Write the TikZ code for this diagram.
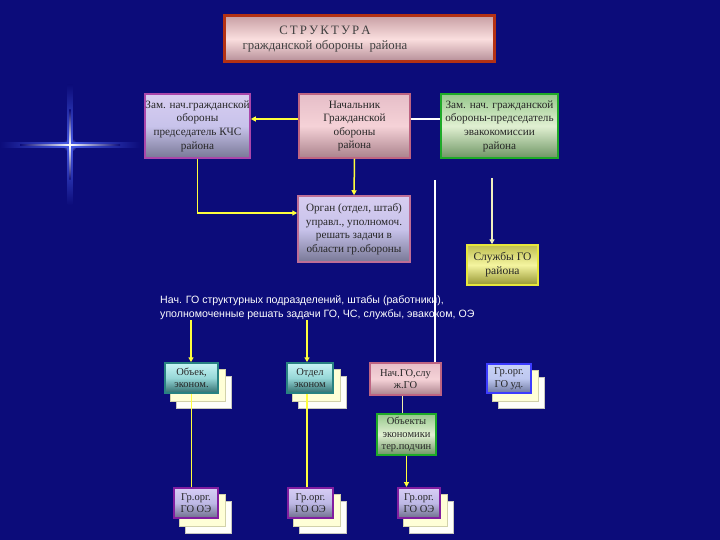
\documentclass[tikz,border=0pt]{standalone}
\usepackage{fontspec}
\setmainfont{Liberation Serif}
\newfontfamily\arialf{Liberation Sans}
\usetikzlibrary{arrows.meta,calc}
\definecolor{bgnavy}{RGB}{12,12,122}
\definecolor{ylw}{RGB}{255,255,60}
\pgfdeclarelayer{bglayer}
\pgfdeclarelayer{sheetlayer}
\pgfsetlayers{bglayer,sheetlayer,main}
\begin{document}
\begin{tikzpicture}[x=1pt,y=-1pt,
  box/.style={rectangle, inner sep=0.5pt, align=center, text=black!85,
    font=\fontsize{11.2}{13.6}\selectfont, line width=1.5pt},
  small/.style={font=\fontsize{10.5}{12.5}\selectfont},
  lavbox/.style={box, draw={rgb,255:red,170;green,70;blue,170}, top color={rgb,255:red,215;green,205;blue,240}, bottom color={rgb,255:red,120;green,120;blue,150}, middle color={rgb,255:red,200;green,195;blue,235}},
  pinkbox/.style={box, draw={rgb,255:red,190;green,100;blue,130}, top color={rgb,255:red,230;green,190;blue,200}, bottom color={rgb,255:red,170;green,130;blue,140}, middle color={rgb,255:red,245;green,210;blue,215}},
  greenbox/.style={box, draw={rgb,255:red,30;green,170;blue,40}, line width=2pt, top color={rgb,255:red,150;green,200;blue,140}, bottom color={rgb,255:red,110;green,150;blue,100}, middle color={rgb,255:red,225;green,240;blue,210}},
  yelbox/.style={box, draw={rgb,255:red,230;green,230;blue,60}, top color={rgb,255:red,190;green,190;blue,80}, bottom color={rgb,255:red,150;green,150;blue,50}, middle color={rgb,255:red,245;green,245;blue,160}},
  tealbox/.style={box, draw={rgb,255:red,40;green,130;blue,130}, top color={rgb,255:red,200;green,245;blue,245}, bottom color={rgb,255:red,50;green,110;blue,110}, middle color={rgb,255:red,150;green,215;blue,215}},
  bluebox/.style={box, draw={rgb,255:red,60;green,60;blue,255}, top color={rgb,255:red,200;green,210;blue,245}, bottom color={rgb,255:red,110;green,120;blue,160}, middle color={rgb,255:red,190;green,200;blue,240}},
  purpbox/.style={box, draw={rgb,255:red,130;green,30;blue,160}, line width=2pt, top color={rgb,255:red,215;green,205;blue,245}, bottom color={rgb,255:red,110;green,110;blue,140}, middle color={rgb,255:red,190;green,185;blue,230}},
  sheetA/.style={fill={rgb,255:red,255;green,255;blue,250}, draw={rgb,255:red,200;green,200;blue,190}, line width=0.5pt},
  sheetB/.style={fill={rgb,255:red,255;green,255;blue,215}, draw={rgb,255:red,210;green,210;blue,170}, line width=0.5pt},
  yl/.style={draw=ylw, line width=1.5pt},
  wl/.style={draw=white, line width=1.1pt},
  tip/.style={-{Triangle[length=5pt,width=5pt]}}
]
\begin{pgfonlayer}{bglayer}
  \fill[bgnavy] (0,0) rectangle (720,540);
  % sparkle
  \shade[inner color={rgb,255:red,150;green,160;blue,255}, outer color=bgnavy] (70,145) circle (7);
  \shade[left color=bgnavy, right color=bgnavy, middle color={rgb,255:red,70;green,90;blue,230}] (0,142.5) rectangle (140,147.5);
  \shade[top color=bgnavy, bottom color=bgnavy, middle color={rgb,255:red,70;green,90;blue,230}] (67.5,85) rectangle (72.5,205);
  \shade[left color=bgnavy, right color=bgnavy, middle color=white] (20,144.3) rectangle (120,145.7);
  \shade[top color=bgnavy, bottom color=bgnavy, middle color=white] (69.3,110) rectangle (70.7,180);
\end{pgfonlayer}
\useasboundingbox (0,0) rectangle (720,540);

% title
\node[box, draw={rgb,255:red,180;green,50;blue,20}, line width=3pt,
  top color={rgb,255:red,200;green,160;blue,165}, bottom color={rgb,255:red,180;green,140;blue,150}, middle color={rgb,255:red,250;green,222;blue,222},
  minimum width=270pt, minimum height=46pt, font=\fontsize{12.8}{15.5}\selectfont, text=black!75] (T) at (359,39)
  {\begin{tabular}{@{}c@{\hspace{68pt}}}С\,Т\,Р\,У\,К\,Т\,У\,Р\,А\\гражданской обороны\ \ района\end{tabular}};

% top row
\node[lavbox, minimum width=105pt, minimum height=64pt] (A) at (197.5,126)
  {Зам. нач.гражданской\\обороны\\председатель КЧС\\района};
\node[pinkbox, minimum width=111pt, minimum height=64pt] (B) at (354.5,126)
  {Начальник\\Гражданской\\обороны\\района};
\node[greenbox, minimum width=117pt, minimum height=64pt] (C) at (499.5,126)
  {Зам. нач. гражданской\\обороны-председатель\\эвакокомиссии\\района};
\node[lavbox, draw={rgb,255:red,190;green,110;blue,150}, minimum width=112pt, minimum height=66pt] (D) at (354,229)
  {Орган (отдел, штаб)\\управл., уполномоч.\\решать задачи в\\области гр.обороны};
\node[yelbox, minimum width=71pt, minimum height=40pt, font=\fontsize{11.5}{14}\selectfont] (E) at (502.5,265)
  {Службы ГО\\района};

% text block
\node[anchor=north west, align=left, inner sep=0pt, text=white,
  font=\arialf\fontsize{10.6}{14}\selectfont] (txt) at (160,295)
  {Нач. ГО структурных подразделений, штабы (работники),\\уполномоченные решать задачи ГО, ЧС, службы, эвакоком, ОЭ};

% lower boxes
\node[tealbox, small, minimum width=53pt, minimum height=30pt] (F) at (191.5,378) {Объек,\\эконом.};
\node[tealbox, small, minimum width=46pt, minimum height=30pt] (G) at (310,378) {Отдел\\эконом};
\node[pinkbox, small, minimum width=71pt, minimum height=32pt] (H) at (405.5,379) {Нач.ГО,слу\\ж.ГО};
\node[bluebox, small, minimum width=44pt, minimum height=29pt] (I) at (509,378.5) {Гр.орг.\\ГО уд.};
\node[greenbox, small, minimum width=59pt, minimum height=41pt] (J) at (406.5,434.5) {Объекты\\экономики\\тер.подчин};
\node[purpbox, small, minimum width=44pt, minimum height=30pt] (K) at (196,503) {Гр.орг.\\ГО ОЭ};
\node[purpbox, small, minimum width=45pt, minimum height=30pt] (L) at (310.5,503) {Гр.орг.\\ГО ОЭ};
\node[purpbox, small, minimum width=42pt, minimum height=30pt] (M) at (419,503) {Гр.орг.\\ГО ОЭ};

% sheets behind
\begin{pgfonlayer}{sheetlayer}
  \foreach \n in {F,G,I,K,L,M}{
    \path[sheetA] ($(\n.south west)+(12,14)$) rectangle ($(\n.north east)+(12,14)$);
    \path[sheetB] ($(\n.south west)+(6,7)$) rectangle ($(\n.north east)+(6,7)$);
  }
\end{pgfonlayer}

% connectors
\coordinate (v1) at (435,180);
\coordinate (v2) at (492,178);
\coordinate (t1) at (191,320);
\coordinate (t2) at (307,320);
\draw[yl, tip] ([yshift=7pt]B.west) -- ([yshift=7pt]A.east);
\draw[wl] ([yshift=7pt]B.east) -- ([yshift=7pt]C.west);
\draw[yl, tip] (B.south) -- (D.north);
\draw[yl, tip] (A.south) |- ([yshift=16pt]D.west);
\draw[wl] (v1) -- (v1 |- H.north);
\draw[draw={rgb,255:red,240;green,240;blue,190}, line width=1.3pt, tip] (v2) -- (v2 |- E.north);
\draw[yl, tip] (t1) -- (t1 |- F.north);
\draw[yl, tip] (t2) -- (t2 |- G.north);
\draw[draw=ylw, line width=1.2pt] (F.south) -- (F.south |- K.north);
\draw[draw=ylw, line width=1.2pt] ([xshift=-3pt]G.south) -- ([xshift=-3pt]G.south |- L.north);
\draw[draw={rgb,255:red,240;green,240;blue,170}, line width=1.2pt] ([xshift=-3pt]H.south) -- ([xshift=-3pt]H.south |- J.north);
\draw[draw=ylw, line width=1.2pt, tip] (J.south) -- (J.south |- M.north);
\end{tikzpicture}
\end{document}
